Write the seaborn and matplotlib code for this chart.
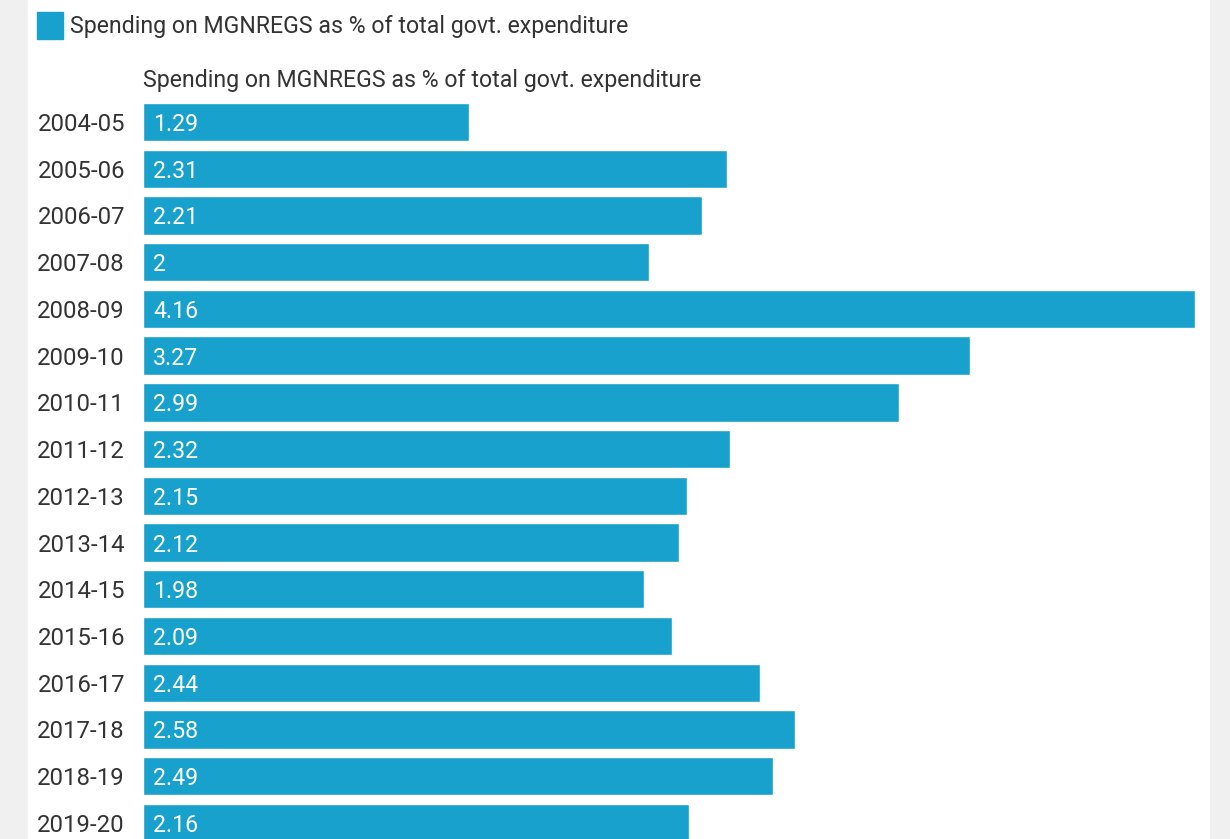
import matplotlib
matplotlib.use("Agg")
import matplotlib.pyplot as plt
import seaborn as sns
import pandas as pd

years = ["2004-05", "2005-06", "2006-07", "2007-08", "2008-09", "2009-10",
         "2010-11", "2011-12", "2012-13", "2013-14", "2014-15", "2015-16",
         "2016-17", "2017-18", "2018-19", "2019-20"]
share = [1.29, 2.31, 2.21, 2, 4.16, 3.27, 2.99, 2.32, 2.15, 2.12, 1.98,
         2.09, 2.44, 2.58, 2.49, 2.16]
labels = ["1.29", "2.31", "2.21", "2", "4.16", "3.27", "2.99", "2.32", "2.15",
          "2.12", "1.98", "2.09", "2.44", "2.58", "2.49", "2.16"]
series_name = "Spending on MGNREGS as % of total govt. expenditure"

df = pd.DataFrame({"year": years, "share": share})

sns.set_style("white")
plt.rcParams["font.family"] = ["Roboto", "DejaVu Sans"]

W, H = 1230, 839
fig = plt.figure(figsize=(W / 100, H / 100), dpi=100)
fig.patch.set_facecolor("#f0f0f0")
# white panel
fig.patches.append(plt.Rectangle((28 / W, 0), (1209 - 28) / W, 1,
                                 transform=fig.transFigure, color="white", zorder=-5))

blue = "#18a1cd"
txt = "#333333"
fs = 16.7

top_px, bot_px = 95, 839
ax = fig.add_axes([143 / W, 0, (1195 - 143) / W, (bot_px - top_px) / H])
ax.set_facecolor("none")
sns.barplot(data=df, y="year", x="share", orient="h", color=blue,
            width=0.82, saturation=1, ax=ax)
ax.set_xlim(0, 4.16)
step = 46.73
ax.set_ylim((bot_px - 122) / step, (top_px - 122) / step)
for s in ax.spines.values():
    s.set_visible(False)
ax.set_xticks([])
ax.set_xlabel("")
ax.set_ylabel("")
ax.tick_params(axis="y", length=0, pad=13, labelsize=17.2, labelcolor=txt)

for i, lab in enumerate(labels):
    ax.annotate(lab, (0, i), xytext=(10, 0), textcoords="offset pixels",
                va="center_baseline", ha="left", color="white", fontsize=fs)

fig.text(143 / W, 1 - 80 / H, series_name, ha="left", va="center",
         fontsize=fs, color=txt)

# legend
fig.patches.append(plt.Rectangle((37 / W, 1 - 39 / H), 26 / W, 27 / H,
                                 transform=fig.transFigure, color=blue, zorder=2))
fig.text(70 / W, 1 - 26 / H, series_name, ha="left", va="center",
         fontsize=fs, color=txt)

fig.savefig("out.png", dpi=100, facecolor=fig.get_facecolor())
